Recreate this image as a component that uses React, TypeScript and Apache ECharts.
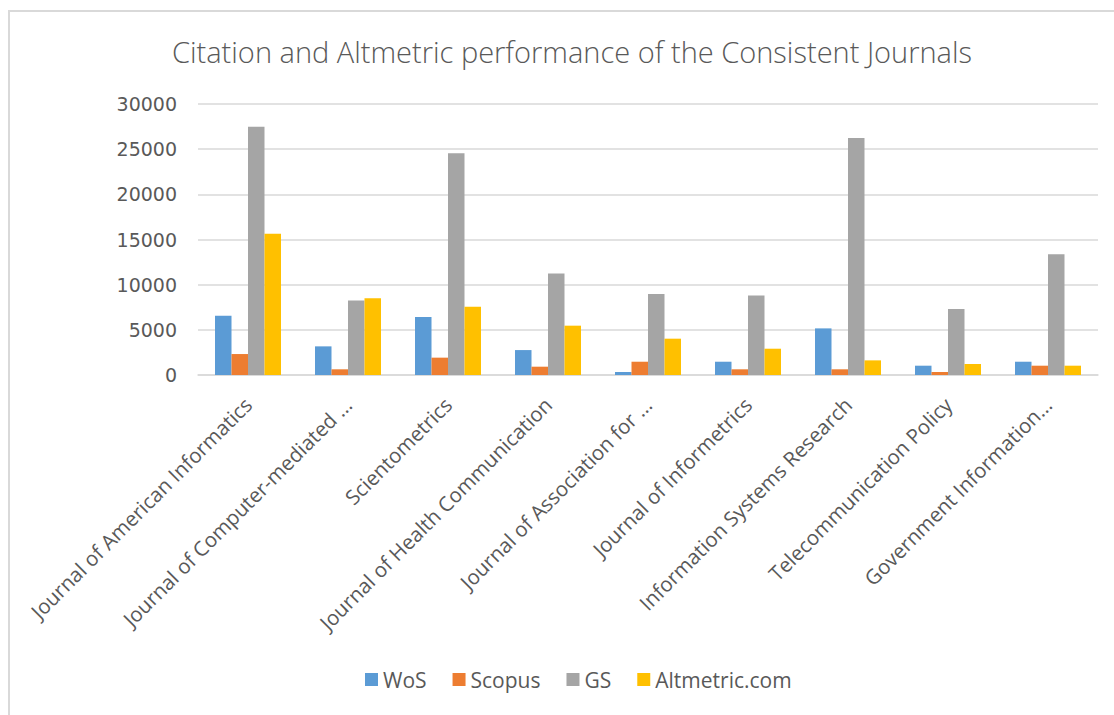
import React, { useEffect, useRef } from "react";
import * as echarts from "echarts";

const categories = [
  "Journal of American Informatics",
  "Journal of Computer-mediated ...",
  "Scientometrics",
  "Journal of Health Communication",
  "Journal of Association for ...",
  "Journal of Informetrics",
  "Information Systems Research",
  "Telecommunication Policy",
  "Government Information...",
];
const wos = [6560, 3170, 6410, 2760, 330, 1470, 5160, 1030, 1470];
const scopus = [2320, 630, 1920, 920, 1470, 630, 630, 330, 1030];
const gs = [27490, 8260, 24550, 11240, 8960, 8810, 26240, 7300, 13380];
const altmetric = [15630, 8510, 7560, 5460, 4020, 2910, 1620, 1220, 1030];
const seriesNames = ["WoS", "Scopus", "GS", "Altmetric.com"];
const colors = ["#5B9BD5", "#ED7D31", "#A5A5A5", "#FFC000"];
const titleText = "Citation and Altmetric performance of the Consistent Journals";

export default function App() {
  const ref = useRef<HTMLDivElement>(null);
  useEffect(() => {
    if (!ref.current) return;
    const chart = echarts.init(ref.current, null, { renderer: "svg" });
    const data = [wos, scopus, gs, altmetric];
    chart.setOption({
      animation: false,
      backgroundColor: "#ffffff",
      textStyle: { fontFamily: "Open Sans" },
      title: {
        text: titleText,
        left: 167,
        top: 32,
        textStyle: { fontFamily: "Open Sans", fontSize: 29, fontWeight: 300, color: "#595959" },
      },
      graphic: [
        {
          type: "rect",
          shape: { x: 9, y: 11, width: 1130, height: 720 },
          style: { fill: "none", stroke: "#d9d9d9", lineWidth: 2 },
          silent: true,
        },
      ],
      legend: {
        bottom: 20,
        left: 360,
        icon: "rect",
        itemWidth: 13,
        itemHeight: 13,
        itemGap: 26,
        textStyle: { fontFamily: "Open Sans", fontSize: 21, color: "#595959", padding: [0, 0, 0, 0] },
        data: seriesNames,
      },
      grid: { left: 198, right: 16, top: 104, bottom: 340, containLabel: false },
      xAxis: {
        type: "category",
        data: categories,
        axisLine: { lineStyle: { color: "#d9d9d9", width: 1.5 } },
        axisTick: { show: false },
        axisLabel: {
          rotate: 45,
          interval: 0,
          margin: 26,
          fontFamily: "Open Sans",
          fontSize: 20.5,
          color: "#595959",
        },
      },
      yAxis: {
        type: "value",
        min: 0,
        max: 30000,
        interval: 5000,
        axisLine: { show: false },
        axisTick: { show: false },
        splitLine: { lineStyle: { color: "#d9d9d9", width: 1.5 } },
        axisLabel: {
          margin: 21,
          fontFamily: "DejaVu Sans",
          fontSize: 19,
          color: "#595959",
          formatter: (v: number) => String(v),
        },
      },
      series: seriesNames.map((name, i) => ({
        name,
        type: "bar",
        data: data[i],
        barGap: "0%",
        barCategoryGap: "34%",
        itemStyle: { color: colors[i] },
      })),
    });
    return () => chart.dispose();
  }, []);
  return (
    <div
      ref={ref}
      style={{ position: "fixed", left: 0, top: 0, width: 1114, height: 715 }}
    />
  );
}
